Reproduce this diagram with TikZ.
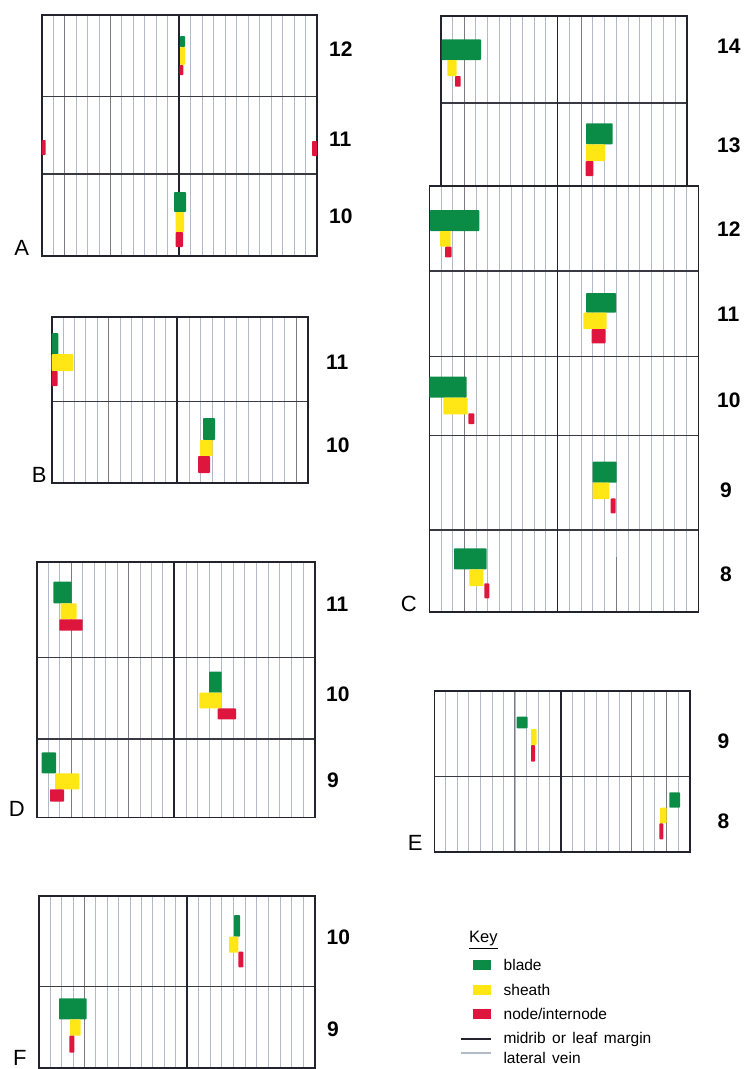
\documentclass[tikz,border=0pt]{standalone}
\usepackage{fontspec}
\setmainfont{Liberation Sans}
\usepackage{xcolor}
\usetikzlibrary{positioning}

\definecolor{bladegreen}{RGB}{10,140,70}
\definecolor{sheathyellow}{RGB}{255,230,20}
\definecolor{nodered}{RGB}{222,22,62}
\definecolor{ribdark}{RGB}{35,35,45}
\definecolor{veingray}{RGB}{178,185,200}
\newcommand{\keyfont}{\fontsize{15.5}{15.5}\selectfont\spaceskip 0.42em\relax}

\begin{document}
\begin{tikzpicture}[
    x=1pt, y=-1pt,
    frame/.style={draw=ribdark, line width=1.6pt},
    rib/.style={draw=ribdark, line width=1.8pt},
    divider/.style={draw=ribdark!90, line width=1.1pt},
    vein/.style={draw=veingray, line width=0.75pt},
    veindark/.style={draw=ribdark!60, line width=0.9pt},
    blade/.style={fill=bladegreen, rounded corners=0.8pt},
    sheath/.style={fill=sheathyellow, rounded corners=0.8pt},
    intnode/.style={fill=nodered, rounded corners=0.8pt},
    rowlab/.style={anchor=west, inner sep=0pt, font=\fontsize{21}{21}\selectfont\bfseries},
    panlab/.style={anchor=south east, inner sep=0pt, font=\fontsize{22}{22}\selectfont},
    swatch/.style={rectangle, minimum width=18pt, minimum height=10pt, inner sep=0pt},
    keytext/.style={anchor=west, inner sep=0pt, font=\keyfont}
]
\useasboundingbox (0,0) rectangle (750,1069);

% panel A
\foreach \i in {1,...,11} \draw[vein] ({41.7+\i*11.442},14.7) -- ++(0,241);
\foreach \i in {1,...,11} \draw[vein] ({179+\i*11.5},14.7) -- ++(0,241);
\foreach \i in {2,6} \draw[veindark] ({41.7+\i*11.442},14.7) -- ++(0,241);
\draw[divider] (41.7,96.7) -- (317,96.7);
\draw[divider] (41.7,174) -- (317,174);
\draw[rib] (179,14.7) -- (179,255.7);
\draw[frame] (41.7,14.7) rectangle (317,255.7);
\fill[blade] (180,36) rectangle (185,47);
\fill[sheath] (180,47) rectangle (185,65);
\fill[intnode] (179.7,65) rectangle (183.3,75);
\fill[intnode] (41.7,140) rectangle (45.7,155);
\fill[intnode] (312,141) rectangle (317,156);
\fill[blade] (174,192) rectangle (186,212);
\fill[sheath] (175.7,212) rectangle (184,232);
\fill[intnode] (175.7,232) rectangle (183,247);
\node[rowlab] (a12) at (329,49) {12};
\node[rowlab] (a11) at (329,139) {11};
\node[rowlab] (a10) at (329,216.5) {10};
\node[panlab] (pa) at (29.3,256) {A};

% panel B
\foreach \i in {1,...,10} \draw[vein] ({51.7+\i*11.39},317) -- ++(0,166);
\foreach \i in {1,...,10} \draw[vein] ({177+\i*11.909},317) -- ++(0,166);
\draw[veindark] ({51.7+5*11.39},317) -- ++(0,166);
\draw[veindark] ({177+10*11.909},317) -- ++(0,166);
\draw[divider] (51.7,401.7) -- (308,401.7);
\draw[rib] (177,317) -- (177,483);
\draw[frame] (51.7,317) rectangle (308,483);
\fill[blade] (51.7,333) rectangle (58.3,354);
\fill[sheath] (51.7,354) rectangle (73.3,371);
\fill[intnode] (51.7,371) rectangle (57.7,386);
\fill[blade] (203,418) rectangle (215,440);
\fill[sheath] (200,440) rectangle (212.7,456);
\fill[intnode] (198,456) rectangle (210,473);
\node[rowlab] (b11) at (326,362.5) {11};
\node[rowlab] (b10) at (326,445) {10};
\node[panlab] (pb) at (46.7,483) {B};

% panel C
\foreach \i in {1,...,9} \draw[vein] ({440.7+\i*11.68},15.7) -- ++(0,170);
\foreach \i in {1,...,10} \draw[vein] ({557.5+\i*11.745},15.7) -- ++(0,170);
\foreach \i in {1,...,10} \draw[vein] ({429.3+\i*11.655},185.7) -- ++(0,426);
\foreach \i in {1,...,11} \draw[vein] ({557.5+\i*11.733},185.7) -- ++(0,426);
\draw[veindark] ({440.7+2*11.68},15.7) -- ++(0,170);
\draw[veindark] ({557.5+2*11.745},15.7) -- ++(0,170);
\draw[veindark] ({429.3+3*11.655},185.7) -- ++(0,426);
\draw[veindark] ({557.5+5*11.733},557) -- ++(0,54.7);
\draw[divider] (440.7,103) -- (686.7,103);
\draw[divider] (429.3,271) -- (698.3,271);
\draw[divider] (429.3,356.7) -- (698.3,356.7);
\draw[divider] (429.3,435.7) -- (698.3,435.7);
\draw[divider] (429.3,530) -- (698.3,530);
\draw[rib] (557.5,15.7) -- (557.5,611.7);
\draw[frame] (440.7,185.7) -- (440.7,15.7) -- (686.7,15.7) -- (686.7,185.7);
\draw[frame] (429.3,185.7) rectangle (698.3,611.7);
\fill[blade] (441.7,39.3) rectangle (481,60);
\fill[sheath] (447.3,60) rectangle (456.7,76);
\fill[intnode] (455,76) rectangle (460.7,86.7);
\fill[blade] (586,123.3) rectangle (612.7,144.3);
\fill[sheath] (586,144.3) rectangle (605,161);
\fill[intnode] (585.7,161) rectangle (593.3,176);
\fill[blade] (430,210) rectangle (479.3,231);
\fill[sheath] (440,231) rectangle (450.7,246.7);
\fill[intnode] (445,246.7) rectangle (451.7,257.3);
\fill[blade] (586,293) rectangle (616,312.7);
\fill[sheath] (583.3,312.7) rectangle (606.7,329);
\fill[intnode] (591.7,329) rectangle (605.7,343.3);
\fill[blade] (429.3,376.7) rectangle (466.7,397.7);
\fill[sheath] (443.3,397.7) rectangle (467.7,414.3);
\fill[intnode] (468.3,413.3) rectangle (474.3,424);
\fill[blade] (592.7,461.7) rectangle (616.7,482.7);
\fill[sheath] (592.7,482.7) rectangle (609.3,499);
\fill[intnode] (610.7,498.3) rectangle (615.7,513.3);
\fill[blade] (454,548.3) rectangle (486.7,569.3);
\fill[sheath] (469.3,569.3) rectangle (483.3,586);
\fill[intnode] (484.3,583.3) rectangle (489.3,598.3);
\node[rowlab] (c14) at (717,46.3) {14};
\node[rowlab] (c13) at (717,145.5) {13};
\node[rowlab] (c12) at (717,229) {12};
\node[rowlab] (c11) at (717,314) {11};
\node[rowlab] (c10) at (717,400.5) {10};
\node[rowlab] (c9) at (720,490.5) {9};
\node[rowlab] (c8) at (720,574) {8};
\node[panlab] (pc) at (417,611.7) {C};

% panel D
\foreach \i in {1,...,11} \draw[vein] ({36.7+\i*11.467},561.7) -- ++(0,255.6);
\foreach \i in {1,...,11} \draw[vein] ({174.3+\i*11.725},561.7) -- ++(0,255.6);
\foreach \i in {3,8} \draw[veindark] ({36.7+\i*11.467},561.7) -- ++(0,255.6);
\draw[divider] (36.7,657.3) -- (315,657.3);
\draw[divider] (36.7,739) -- (315,739);
\draw[rib] (174.3,561.7) -- (174.3,817.3);
\draw[frame] (36.7,561.7) rectangle (315,817.3);
\fill[blade] (53.3,581.7) rectangle (71.7,603.3);
\fill[sheath] (60.7,603.3) rectangle (76.7,619.3);
\fill[intnode] (59.3,619.3) rectangle (82.7,630.7);
\fill[blade] (209,671.7) rectangle (221.7,692.7);
\fill[sheath] (199.3,692.7) rectangle (221.7,708.3);
\fill[intnode] (217.7,708.3) rectangle (236,719.3);
\fill[blade] (41.7,752.3) rectangle (56,773.3);
\fill[sheath] (55,773.3) rectangle (79.3,789.3);
\fill[intnode] (50,789.3) rectangle (64,801.7);
\node[rowlab] (d11) at (326,604) {11};
\node[rowlab] (d10) at (326,694.5) {10};
\node[rowlab] (d9) at (327,780.5) {9};
\node[panlab] (pd) at (25,816.5) {D};

% panel E
\foreach \i in {1,...,10} \draw[vein] ({434.3+\i*11.518},691) -- ++(0,160.7);
\foreach \i in {1,...,10} \draw[vein] ({561+\i*11.727},691) -- ++(0,160.7);
\draw[veindark] ({434.3+7*11.518},691) -- ++(0,160.7);
\foreach \i in {6,9} \draw[veindark] ({561+\i*11.727},691) -- ++(0,160.7);
\draw[divider] (434.3,776.7) -- (690,776.7);
\draw[rib] (561,691) -- (561,851.7);
\draw[frame] (434.3,691) rectangle (690,851.7);
\fill[blade] (516.7,716.7) rectangle (527.7,728.3);
\fill[sheath] (531,729) rectangle (536.7,745);
\fill[intnode] (531,745) rectangle (535,761.7);
\fill[blade] (669.3,792.3) rectangle (680,807.7);
\fill[sheath] (660,807.7) rectangle (666.7,823.3);
\fill[intnode] (659.3,823.3) rectangle (663.3,839.3);
\node[rowlab] (e9) at (717.5,740.8) {9};
\node[rowlab] (e8) at (717.5,821) {8};
\node[panlab] (pe) at (422.7,850.5) {E};

% panel F
\foreach \i in {1,...,12} \draw[vein] ({39+\i*11.36},895.7) -- ++(0,172.3);
\foreach \i in {1,...,10} \draw[vein] ({186.7+\i*11.66},895.7) -- ++(0,172.3);
\draw[veindark] ({39+4*11.36},895.7) -- ++(0,172.3);
\draw[divider] (39,986.7) -- (315,986.7);
\draw[rib] (186.7,895.7) -- (186.7,1068);
\draw[frame] (39,895.7) rectangle (315,1068);
\fill[blade] (234,915) rectangle (240,936.7);
\fill[sheath] (229,936.7) rectangle (238.3,952.7);
\fill[intnode] (238.3,951.7) rectangle (243.3,967.3);
\fill[blade] (59,998.3) rectangle (86.7,1019.3);
\fill[sheath] (70,1019.3) rectangle (80.7,1035.7);
\fill[intnode] (69.3,1035.7) rectangle (74.3,1052.7);
\node[rowlab] (f10) at (326.5,937.5) {10};
\node[rowlab] (f9) at (327,1029) {9};
\node[panlab] (pf) at (26.7,1066) {F};

% key
\node[keytext, font=\fontsize{16.5}{16.5}\selectfont] (key) at (469,940) {\underline{Key}};
\node[swatch, fill=bladegreen] (kblade) at (481.7,965) {};
\node[swatch, fill=sheathyellow] (ksheath) at (481.7,990) {};
\node[swatch, fill=nodered] (knode) at (481.7,1013.5) {};
\node[keytext, right=12.6pt of kblade] (tblade) {blade};
\node[keytext, right=12.6pt of ksheath] (tsheath) {sheath};
\node[keytext, right=12.6pt of knode] (tnode) {node/internode};
\draw[rib, line width=2pt] (460.7,1039) -- (490.7,1039);
\draw[vein, line width=1.2pt] (460.7,1053) -- (490.7,1053);
\node[keytext] (tmid) at (503.3,1039) {midrib or leaf margin};
\node[keytext] (tlat) at (503.3,1058) {lateral vein};

\end{tikzpicture}
\end{document}
